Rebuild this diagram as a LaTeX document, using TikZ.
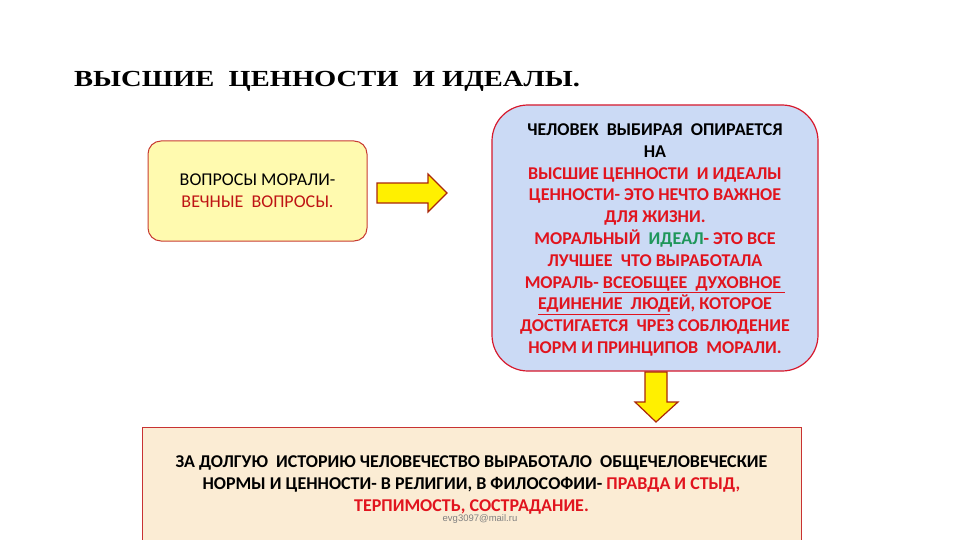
\documentclass[tikz,border=0pt]{standalone}
\usepackage{fontspec}
\usepackage{graphicx}
\setmainfont{Liberation Serif}
\newfontfamily\timesfont{Liberation Serif}
\newfontfamily\calfont{Carlito}
\newfontfamily\arialfont{Liberation Sans}
\definecolor{txtred}{RGB}{225,20,30}
\definecolor{darkred}{RGB}{190,20,20}
\definecolor{idealgreen}{RGB}{30,150,90}
\definecolor{yellowbox}{RGB}{255,250,175}
\definecolor{yellowborder}{RGB}{200,60,50}
\definecolor{bluebox}{RGB}{203,218,245}
\definecolor{blueborder}{RGB}{215,25,45}
\definecolor{beigebox}{RGB}{251,236,212}
\definecolor{beigeborder}{RGB}{200,50,50}
\definecolor{arrowfill}{RGB}{255,240,0}
\definecolor{arrowborder}{RGB}{170,40,10}
\begin{document}
\begin{tikzpicture}[x=1pt,y=-1pt,
  boxtext/.style={align=center,font=\calfont\fontsize{18}{21.8}\selectfont},
  boldtext/.style={align=center,font=\calfont\bfseries\fontsize{18}{21.8}\selectfont},
  arrowshape/.style={fill=arrowfill,draw=arrowborder,line width=1.2pt,line join=miter}]
\useasboundingbox (0,0) rectangle (960,540);
\clip (0,0) rectangle (960,540);
\fill[white] (0,0) rectangle (960,540);
% title
\node[anchor=west,inner sep=0pt,font=\timesfont\bfseries\fontsize{23}{26}\selectfont] (title) at (74,81) {\scalebox{1.24}[1]{ВЫСШИЕ\ \ ЦЕННОСТИ\ \ И ИДЕАЛЫ.}};
% left box
\draw[fill=yellowbox,draw=yellowborder,line width=1pt,rounded corners=13pt] (148,141) rectangle (367,241);
\node[boxtext] (left) at (257.5,191) {ВОПРОСЫ МОРАЛИ-\\\textcolor{darkred}{ВЕЧНЫЕ\ \ ВОПРОСЫ.}};
% right arrow
\draw[arrowshape] (377,183) -- (428,183) -- (428,174) -- (447,193) -- (428,212) -- (428,203) -- (377,203) -- cycle;
% blue box
\draw[fill=bluebox,draw=blueborder,line width=1.2pt,rounded corners=36pt] (492,105) rectangle (818,371);
\node[boldtext] (blue) at (655,240) {%
ЧЕЛОВЕК\ \ ВЫБИРАЯ\ \ ОПИРАЕТСЯ\\
НА\\
\textcolor{txtred}{ВЫСШИЕ ЦЕННОСТИ\ \ И ИДЕАЛЫ}\\
\textcolor{txtred}{ЦЕННОСТИ- ЭТО НЕЧТО ВАЖНОЕ}\\
\textcolor{txtred}{ДЛЯ ЖИЗНИ.}\\
\textcolor{txtred}{МОРАЛЬНЫЙ\ \ }\textcolor{idealgreen}{ИДЕАЛ}\textcolor{txtred}{- ЭТО ВСЕ}\\
\textcolor{txtred}{ЛУЧШЕЕ\ \ ЧТО ВЫРАБОТАЛА}\\
\textcolor{txtred}{МОРАЛЬ- \underline{ВСЕОБЩЕЕ\ \ ДУХОВНОЕ\ }}\\
\textcolor{txtred}{\underline{ЕДИНЕНИЕ\ \ ЛЮД}ЕЙ, КОТОРОЕ}\\
\textcolor{txtred}{ДОСТИГАЕТСЯ\ \ ЧРЕЗ СОБЛЮДЕНИЕ}\\
\textcolor{txtred}{НОРМ И ПРИНЦИПОВ\ \ МОРАЛИ.}};
% down arrow
\draw[arrowshape] (645,372) -- (667,372) -- (667,402) -- (678,402) -- (656,422) -- (635,402) -- (645,402) -- cycle;
% bottom box
\draw[fill=beigebox,draw=beigeborder,line width=0.8pt] (142,427) rectangle (801,560);
\node[boldtext] (bottom) at (471.5,485) {%
ЗА ДОЛГУЮ\ \ ИСТОРИЮ ЧЕЛОВЕЧЕСТВО ВЫРАБОТАЛО\ \ ОБЩЕЧЕЛОВЕЧЕСКИЕ\\
НОРМЫ И ЦЕННОСТИ- В РЕЛИГИИ, В ФИЛОСОФИИ- \textcolor{txtred}{ПРАВДА И СТЫД,}\\
\textcolor{txtred}{ТЕРПИМОСТЬ, СОСТРАДАНИЕ.}};
\node[font=\arialfont\fontsize{9.5}{11}\selectfont,text=black!50,inner sep=1pt] (email) at (480,519) {evg3097@mail.ru};
\end{tikzpicture}
\end{document}
